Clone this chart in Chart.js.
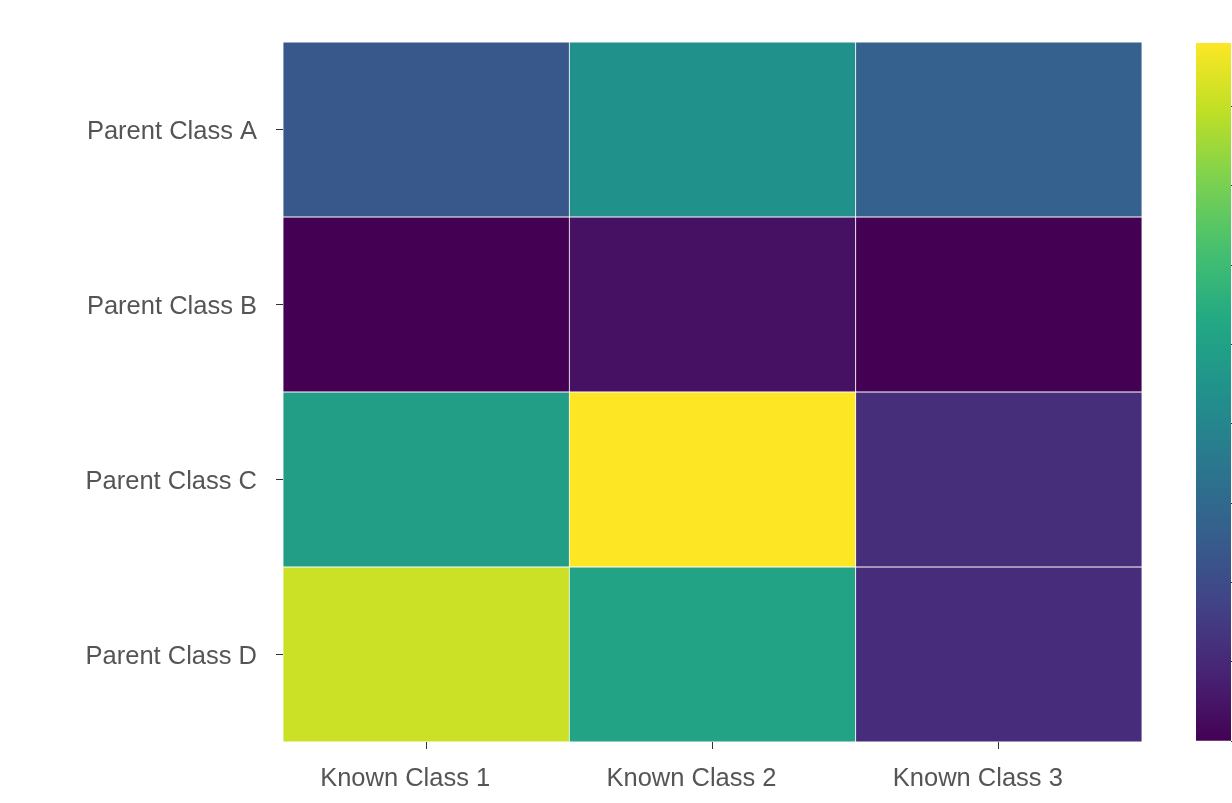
<!DOCTYPE html>
<html>
<head>
<meta charset="utf-8">
<title>Parent vs Known Class heatmap</title>
<script src="https://cdn.jsdelivr.net/npm/chart.js@4.4.1/dist/chart.umd.min.js"></script>
<style>
    html, body { margin: 0; padding: 0; background: #fff; }
    body { width: 1232px; height: 803px; overflow: hidden; position: relative; }
    #heatmap { position: absolute; left: 0; top: 0; }
    #colorbar { position: absolute; left: 1150px; top: 0; }
</style>
</head>
<body>
<canvas id="heatmap" width="1232" height="803"></canvas>
<canvas id="colorbar" width="300" height="803"></canvas>
<script>
// heatmap data
const rowLabels = ['Parent Class A', 'Parent Class B', 'Parent Class C', 'Parent Class D'];
const colLabels = ['Known Class 1', 'Known Class 2', 'Known Class 3'];

const parentA = [0.24, 0.44, 0.27];
const parentB = [0.00, 0.04, 0.00];
const parentC = [0.49, 0.88, 0.115];
const parentD = [0.81, 0.51, 0.11];

const colorbarTicks = [0, 0.1, 0.2, 0.3, 0.4, 0.5, 0.6, 0.7, 0.8];

const rows = [parentA, parentB, parentC, parentD];
const allValues = rows.flat();
const vMin = Math.min(...allValues);
const vMax = Math.max(...allValues);

// viridis stops (0, 0.1, ... 1)
const viridis = ['#440154', '#482475', '#414487', '#355f8d', '#2a788e',
                 '#21918c', '#22a884', '#44bf70', '#7ad151', '#bddf26', '#fde725'];

function hexToRgb(h) {
    return [parseInt(h.slice(1, 3), 16), parseInt(h.slice(3, 5), 16), parseInt(h.slice(5, 7), 16)];
}

function viridisColor(t) {
    t = Math.max(0, Math.min(1, t));
    const pos = t * (viridis.length - 1);
    const i = Math.min(Math.floor(pos), viridis.length - 2);
    const f = pos - i;
    const a = hexToRgb(viridis[i]), b = hexToRgb(viridis[i + 1]);
    const c = a.map((v, k) => Math.round(v + (b[k] - v) * f));
    return `rgb(${c[0]}, ${c[1]}, ${c[2]})`;
}

function colourFor(v) {
    return viridisColor((v - vMin) / (vMax - vMin));
}

Chart.defaults.font.family = '"Liberation Sans", Arial, Helvetica, sans-serif';
Chart.defaults.color = '#555';

// one floating-bar dataset per row, overlapping per column
const datasets = rows.map((vals, i) => ({
    label: rowLabels[i],
    data: colLabels.map(() => [i, i + 1]),
    backgroundColor: vals.map(colourFor),
    borderColor: 'rgba(255, 255, 255, 0.5)',
    borderWidth: 0.75,
    borderSkipped: false,
    grouped: false,
    barPercentage: 1,
    categoryPercentage: 1
}));

new Chart(document.getElementById('heatmap'), {
    type: 'bar',
    data: { labels: colLabels, datasets: datasets },
    options: {
        responsive: false,
        animation: false,
        devicePixelRatio: 1,
        layout: { padding: { top: 42, right: 90, bottom: 0, left: 0 } },
        plugins: {
            legend: { display: false },
            tooltip: { enabled: false },
            title: { display: false }
        },
        scales: {
            x: {
                type: 'category',
                offset: true,
                border: { display: false },
                grid: {
                    offset: false,
                    drawOnChartArea: false,
                    drawTicks: true,
                    tickLength: 7,
                    color: '#333'
                },
                ticks: { padding: 15, labelOffset: -21, font: { size: 25.5 }, color: '#555', maxRotation: 0 },
                afterFit: (scale) => { scale.height = 61; }
            },
            y: {
                type: 'linear',
                min: 0,
                max: rowLabels.length,
                reverse: true,
                border: { display: false },
                grid: {
                    drawOnChartArea: false,
                    drawTicks: true,
                    tickLength: 7,
                    color: '#333'
                },
                afterBuildTicks: (scale) => {
                    scale.ticks = rowLabels.map((_, i) => ({ value: i + 0.5 }));
                },
                ticks: {
                    padding: 19,
                    labelOffset: 2,
                    font: { size: 25.5 },
                    color: '#555',
                    callback: (v) => rowLabels[Math.floor(v)]
                },
                afterFit: (scale) => { scale.width = 283; }
            }
        }
    }
});

// colour bar
new Chart(document.getElementById('colorbar'), {
    type: 'bar',
    data: {
        labels: [''],
        datasets: [{
            data: [[vMin, vMax]],
            backgroundColor: (ctx) => {
                const area = ctx.chart.chartArea;
                if (!area) return viridis[0];
                const g = ctx.chart.ctx.createLinearGradient(0, area.bottom, 0, area.top);
                viridis.forEach((c, i) => g.addColorStop(i / (viridis.length - 1), c));
                return g;
            },
            borderWidth: 0,
            barPercentage: 1,
            categoryPercentage: 1
        }]
    },
    options: {
        responsive: false,
        animation: false,
        devicePixelRatio: 1,
        layout: { padding: { top: 43, right: 0, bottom: 62, left: 46 } },
        plugins: { legend: { display: false }, tooltip: { enabled: false } },
        scales: {
            x: { display: false },
            y: {
                position: 'right',
                min: vMin,
                max: vMax,
                border: { display: false },
                grid: { drawOnChartArea: false, tickLength: 6, color: '#333' },
                afterBuildTicks: (scale) => {
                    scale.ticks = colorbarTicks.map(v => ({ value: v }));
                },
                ticks: { font: { size: 20 }, color: '#555', padding: 8 },
                afterFit: (scale) => { scale.width = 300 - 46 - 35; }
            }
        }
    }
});
</script>
</body>
</html>
